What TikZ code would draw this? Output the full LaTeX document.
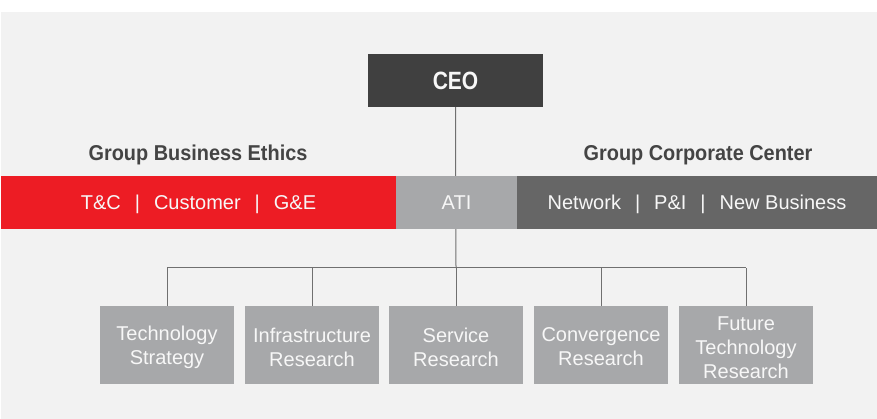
\documentclass[tikz,border=0pt]{standalone}
\usepackage{fontspec}
\setmainfont{Liberation Sans}
\newfontfamily\bandfont{Liberation Sans}
\newfontfamily\headfont{Liberation Sans}[FakeStretch=0.925]
\newfontfamily\ceofont{Liberation Sans}[FakeStretch=0.84]
\usetikzlibrary{backgrounds}
\definecolor{bgc}{HTML}{F2F2F2}
\definecolor{skred}{HTML}{ED1C24}
\definecolor{atigray}{HTML}{A7A8AA}
\definecolor{darkband}{HTML}{666666}
\definecolor{ceogray}{HTML}{404040}
\definecolor{headc}{HTML}{444444}
\definecolor{linec}{HTML}{707070}
\definecolor{txtc}{HTML}{F7F7F7}
\newcommand{\sep}{\hspace{14pt}|\hspace{14pt}}
\tikzset{
  band/.style={rectangle, inner sep=0pt, minimum height=53pt, text=txtc,
    text height=14.3pt, text depth=0pt,
    font=\bandfont\fontsize{20}{24}\selectfont},
  unit/.style={rectangle, inner sep=0pt, minimum width=134pt, minimum height=78pt,
    fill=atigray},
  unittext/.style={inner sep=0pt, text=txtc, align=center, font=\fontsize{20}{24}\selectfont},
  heading/.style={inner sep=0pt, text=headc, text height=15.5pt, text depth=0pt,
    font=\headfont\bfseries\fontsize{21.5}{24}\selectfont},
  conn/.style={draw=linec, line width=1pt}
}
\begin{document}
\begin{tikzpicture}[x=1pt,y=-1pt]
\useasboundingbox (0,0) rectangle (877,419);
\node[rectangle, inner sep=0pt, minimum width=175pt, minimum height=53pt, fill=ceogray,
  text=txtc, text height=18pt, text depth=0pt,
  font=\ceofont\bfseries\fontsize{25}{28}\selectfont] (ceo) at (455.5,80.5) {CEO};
\node[heading] (gbe) at (198,152.5) {Group Business Ethics};
\node[heading] (gcc) at (698,152.5) {Group Corporate Center};
\node[band, fill=skred, minimum width=395pt] (red) at (198.5,202.5) {T\&C\sep Customer\sep G\&E};
\node[band, fill=atigray, minimum width=121pt] (ati) at (456.5,202.5) {ATI};
\node[band, fill=darkband, minimum width=360pt] (grp) at (697,202.5) {Network\sep P\&I\sep New Business};
\node[unit] (b1) at (167,345) {};
\node[unit] (b2) at (312,345) {};
\node[unit] (b3) at (456,345) {};
\node[unit] (b4) at (601,345) {};
\node[unit] (b5) at (746,345) {};
\node[unittext] (t1) at ([yshift=-2pt]b1.center) {Technology\\Strategy};
\node[unittext] (t2) at ([yshift=-2pt]b2.center) {Infrastructure\\Research};
\node[unittext] (t3) at ([yshift=-2pt]b3.center) {Service\\Research};
\node[unittext] (t4) at ([yshift=-2pt]b4.center) {Convergence\\Research};
\node[unittext] (t5) at ([yshift=-2.5pt]b5.center) {Future\\Technology\\Research};
\coordinate (bus) at (456,268);
\begin{pgfonlayer}{background}
\fill[white] (0,0) rectangle (877,419);
\fill[bgc] (1,12) rectangle (877,419);
\draw[conn] (ceo.south) -- (bus);
\draw[conn] (b1.north |- bus) -- (b5.north |- bus);
\foreach \b in {b1,b2,b3,b4,b5} {\draw[conn] (\b.north) -- (\b.north |- bus);}
\end{pgfonlayer}
\end{tikzpicture}
\end{document}
